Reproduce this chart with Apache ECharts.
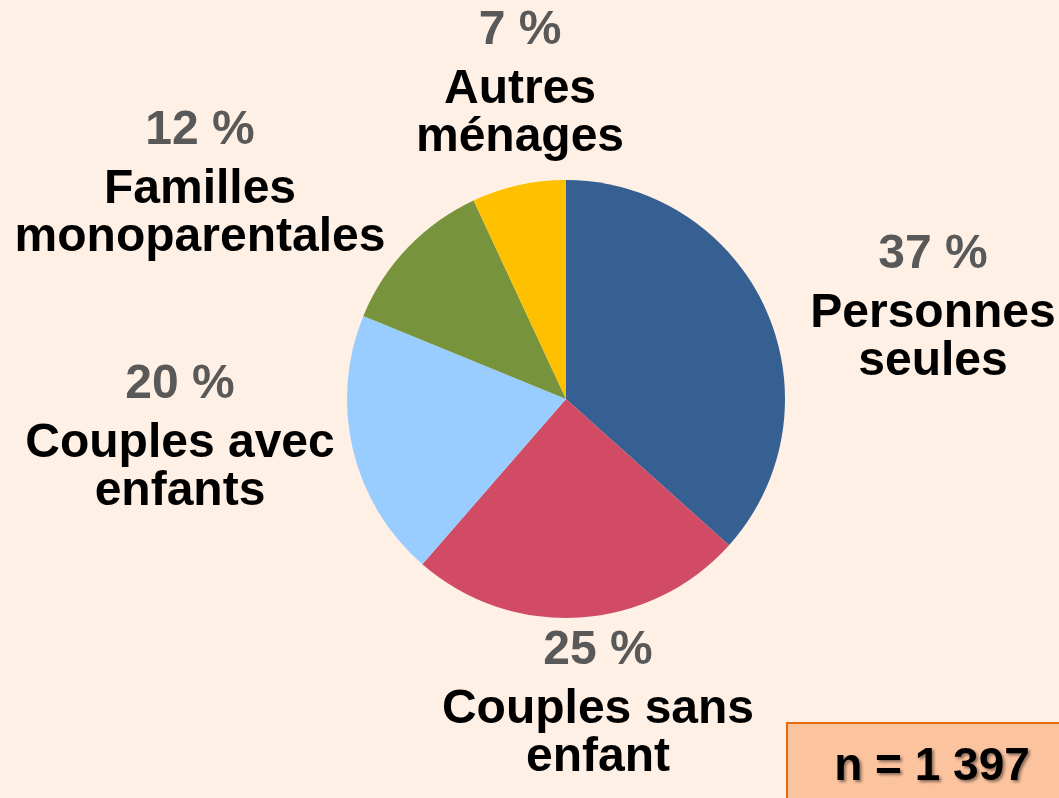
<!DOCTYPE html>
<html>
<head>
<meta charset="utf-8">
<script src="https://cdn.jsdelivr.net/npm/echarts@6/dist/echarts.min.js"></script>
<style>
html,body{margin:0;padding:0;background:#FEF0E5;}
#chart{width:1059px;height:798px;}
</style>
</head>
<body>
<div id="chart"></div>
<script>
var categories = ['Personnes\nseules', 'Couples sans\nenfant', 'Couples avec\nenfants', 'Familles\nmonoparentales', 'Autres\nménages'];
var values = [37, 25, 20, 12, 7];
var colors = ['#376092', '#D04B63', '#99CCFF', '#77933C', '#FFC000'];
var sampleNote = 'n = 1 397';

// label anchor positions (layout, not data)
var labelPos = [[933, 303], [598, 699], [180, 433], [200, 179], [520, 79]];

var chart = echarts.init(document.getElementById('chart'));
var FONT = 'Liberation Sans, Arial, sans-serif';
chart.setOption({
  backgroundColor: '#FEF0E5',
  animation: false,
  series: [{
    type: 'pie',
    center: [566, 399],
    radius: 219,
    startAngle: 90,
    clockwise: true,
    data: categories.map(function (c, i) {
      return { name: c, value: values[i], itemStyle: { color: colors[i] } };
    }),
    itemStyle: { borderWidth: 0 },
    labelLine: { show: false },
    label: {
      show: true,
      position: 'outside',
      overflow: 'none',
      width: 600,
      formatter: function (p) {
        var lines = p.name.split('\n').map(function (l) { return '{n|' + l + '}'; });
        return '{p|' + p.value + ' %}\n' + lines.join('\n');
      },
      rich: {
        p: { fontFamily: FONT, fontWeight: 'bold', fontSize: 48, color: '#595959', lineHeight: 70, align: 'center' },
        n: { fontFamily: FONT, fontWeight: 'bold', fontSize: 48, color: '#000000', lineHeight: 48, align: 'center' }
      }
    },
    labelLayout: function (params) {
      var pos = labelPos[params.dataIndex];
      return { x: pos[0], y: pos[1], align: 'center', verticalAlign: 'middle', moveOverlap: null };
    },
    emphasis: { disabled: true }
  }],
  graphic: [
    {
      type: 'rect',
      shape: { x: 787, y: 723, width: 290, height: 100 },
      style: { fill: '#FCC39F', stroke: '#E46C0A', lineWidth: 2 }
    },
    {
      type: 'text',
      x: 932, y: 767,
      style: {
        text: sampleNote,
        fontFamily: FONT, fontWeight: 'bold', fontSize: 46,
        fill: '#000000', align: 'center', verticalAlign: 'middle',
        textShadowColor: 'rgba(0,0,0,0.45)', textShadowBlur: 3,
        textShadowOffsetX: 2, textShadowOffsetY: 2
      }
    }
  ]
});
</script>
</body>
</html>
